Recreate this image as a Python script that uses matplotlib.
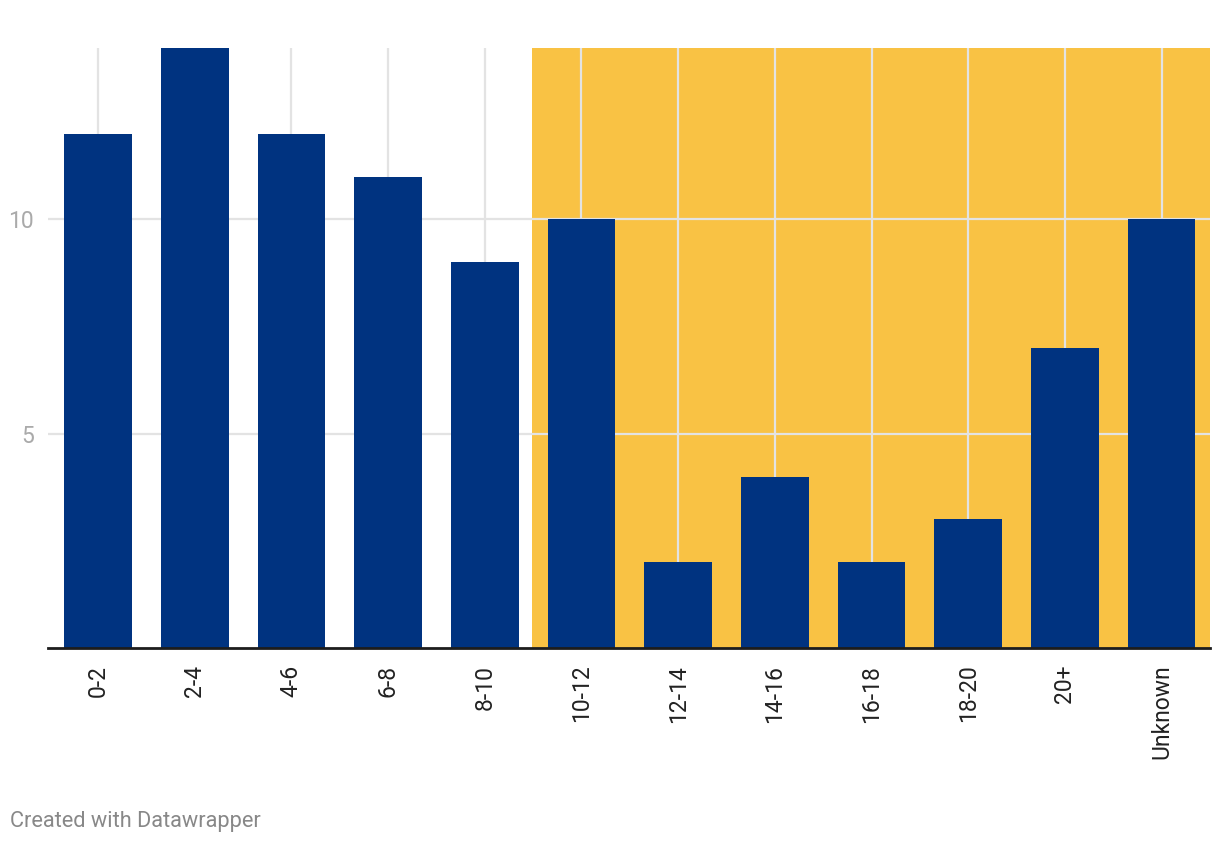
import matplotlib.pyplot as plt

categories = ["0-2", "2-4", "4-6", "6-8", "8-10", "10-12", "12-14",
              "14-16", "16-18", "18-20", "20+", "Unknown"]
values = [12, 14, 12, 11, 9, 10, 2, 4, 2, 3, 7, 10]
y_ticks = [5, 10]
highlight_from = "10-12"

plt.rcParams['font.family'] = ['Roboto', 'DejaVu Sans']

fig = plt.figure(figsize=(12.2, 8.44), dpi=100)
ax = fig.add_axes([48 / 1220, 1 - 648 / 844, (1210 - 48) / 1220, 600 / 844])

x = list(range(len(categories)))
start = categories.index(highlight_from) - 0.51
ax.axvspan(start, 11.5, color='#f9c244', lw=0, zorder=0)

ax.bar(x, values, width=0.70, color='#003380', zorder=3)

ax.set_xlim(-0.517, 11.5)
ax.set_ylim(0, 14)
ax.set_yticks(y_ticks)
ax.set_xticks(x)
ax.set_xticklabels(categories, rotation=90, fontsize=16.5, color='#222222')
ax.tick_params(axis='y', length=0, pad=10, labelsize=16.5, labelcolor='#aaaaaa')
ax.tick_params(axis='x', length=0, pad=12)
ax.grid(True, color='#e3e3e3', lw=1.6, zorder=1)
ax.set_axisbelow(False)
for line in ax.get_xgridlines() + ax.get_ygridlines():
    line.set_zorder(1)

for side in ['top', 'right', 'left']:
    ax.spines[side].set_visible(False)
ax.spines['bottom'].set_color('#1d1d1d')
ax.spines['bottom'].set_linewidth(2)
ax.spines['bottom'].set_zorder(4)

fig.text(10 / 1220, 1 - 821 / 844, "Created with Datawrapper", fontsize=15.7,
         color='#888888', va='center', ha='left')

fig.savefig('out.png', dpi=100)
